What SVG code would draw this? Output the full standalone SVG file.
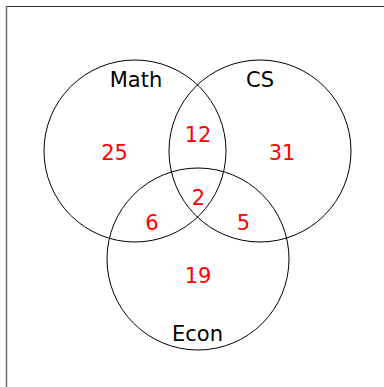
<svg xmlns="http://www.w3.org/2000/svg" width="384" height="387" viewBox="0 0 384 387">
<style>
.c{fill:none;stroke:#000;stroke-width:1}
.lbl{font-family:"DejaVu Sans",sans-serif;font-size:21px;fill:#000;text-anchor:middle}
.num{font-family:"DejaVu Sans",sans-serif;font-size:21px;fill:#ff0000;text-anchor:middle}
</style>
<rect width="384" height="387" fill="#fff"/>
<g id="frame">
<line x1="6" y1="6.5" x2="384" y2="6.5" stroke="#333" stroke-width="1.2"/>
<line x1="6.5" y1="6" x2="6.5" y2="387" stroke="#666" stroke-width="1.4"/>
</g>
<g id="math"><circle class="c" cx="135" cy="151" r="91"/><text class="lbl" x="136" y="87">Math</text></g>
<g id="cs"><circle class="c" cx="260" cy="151" r="91"/><text class="lbl" x="260" y="87">CS</text></g>
<g id="econ"><circle class="c" cx="198" cy="259" r="91"/><text class="lbl" x="197.5" y="341">Econ</text></g>
<g id="counts">
<text class="num" x="114.5" y="160">25</text>
<text class="num" x="282" y="160">31</text>
<text class="num" x="198" y="142">12</text>
<text class="num" x="198.5" y="205">2</text>
<text class="num" x="152" y="230">6</text>
<text class="num" x="243.5" y="230">5</text>
<text class="num" x="198" y="283">19</text>
</g>
</svg>
